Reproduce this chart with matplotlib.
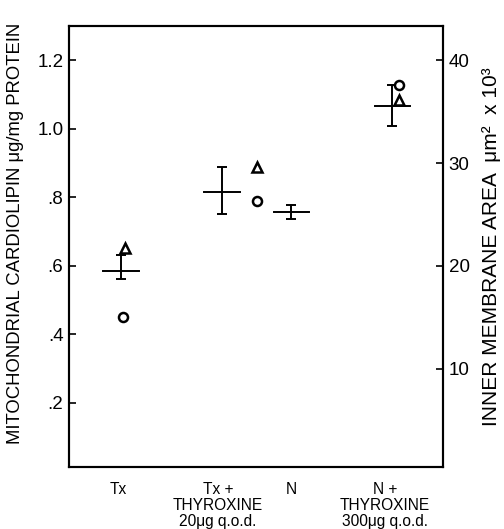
"""
Cardiolipin vs inner membrane area, re-drawn with matplotlib
"""
import matplotlib.pyplot as plt
import numpy as np

plt.rcParams['font.family'] = ['Liberation Sans', 'DejaVu Sans']

# group labels under the axis
groups = ["Tx", "Tx +\nTHYROXINE\n20\u03bcg q.o.d.", "N", "N +\nTHYROXINE\n300\u03bcg q.o.d."]
group_x = [1.31, 3.98, 5.94, 8.45]

# cardiolipin mean +/- range (left axis)
mean_x = [1.39, 4.09, 5.94, 8.64]
means = [0.585, 0.816, 0.757, 1.067]
upper = [0.632, 0.889, 0.778, 1.129]
lower = [0.561, 0.751, 0.737, 1.009]

# inner membrane area (right axis), circles and triangles
circle_x = [1.44, 5.03, 8.82]
circle_y = [15.0, 26.3, 37.6]
tri_x = [1.50, 5.03, 8.82]
tri_y = [21.7, 29.6, 36.2]

left_ticks = [0.2, 0.4, 0.6, 0.8, 1.0, 1.2]
left_labels = [".2", ".4", ".6", ".8", "1.0", "1.2"]
right_ticks = [10, 20, 30, 40]

fig = plt.figure(figsize=(5.04, 5.29), dpi=100)
ax = fig.add_axes([0.137, 0.117, 0.742, 0.834])
ax2 = ax.twinx()

ylo, yhi = 0.012, 1.301
ax.set_xlim(0, 10)
ax.set_ylim(ylo, yhi)
ax2.set_ylim(ylo * 100 / 3, yhi * 100 / 3)

means = np.array(means)
yerr = [means - np.array(lower), np.array(upper) - means]
ax.errorbar(mean_x, means, yerr=yerr, fmt='none', ecolor='black',
            elinewidth=1.4, capsize=3.6, capthick=1.4)
for x, m in zip(mean_x, means):
    ax.plot([x - 0.47, x + 0.47], [m, m], color='black', lw=1.4)

ax2.plot(circle_x, circle_y, 'o', ms=6.5, mfc='white', mec='black', mew=1.8)
ax2.plot(tri_x, tri_y, '^', ms=6.5, mfc='white', mec='black', mew=1.8)

for a in (ax, ax2):
    for s in a.spines.values():
        s.set_linewidth(1.5)

ax.set_yticks(left_ticks)
ax.set_yticklabels(left_labels)
ax.tick_params(axis='y', direction='in', length=5, width=1.2, labelsize=13.5, pad=4)
ax.set_xticks([])
ax2.set_yticks(right_ticks)
ax2.tick_params(axis='y', direction='in', length=5, width=1.2, labelsize=13.5, pad=4)

for x, lab in zip(group_x, groups):
    ax.text(x, -0.033, lab, transform=ax.get_xaxis_transform(), ha='center',
            va='top', fontsize=11.2, linespacing=1.08)

ax.set_ylabel("MITOCHONDRIAL CARDIOLIPIN \u03bcg/mg PROTEIN", fontsize=13.3)
ax.yaxis.set_label_coords(-0.12, 0.53)
ax2.set_ylabel("INNER MEMBRANE AREA  \u03bcm\u00b2  x 10\u00b3", fontsize=15, labelpad=9)

fig.savefig("out.png", dpi=100)
